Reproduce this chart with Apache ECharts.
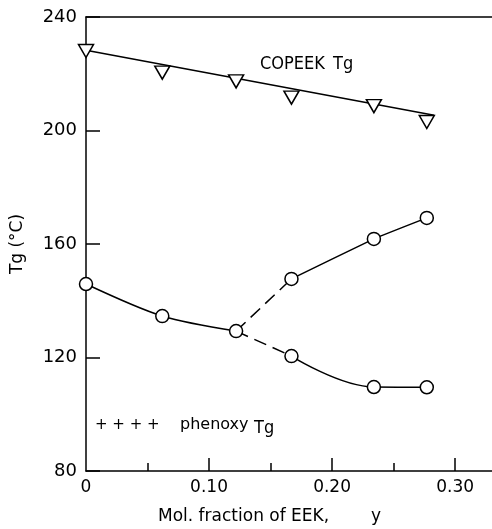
<!DOCTYPE html>
<html>
<head>
<meta charset="utf-8">
<script src="https://cdn.jsdelivr.net/npm/echarts@6/dist/echarts.min.js"></script>
<style>html,body{margin:0;padding:0;background:#fff}#c{width:492px;height:529px}</style>
</head>
<body>
<div id="c"></div>
<script>
// ---- data ----
var xValues = [0, 0.062, 0.122, 0.167, 0.234, 0.277];
var copeekTg = [228.0, 220.4, 217.3, 211.6, 208.6, 203.0];
var copeekFitX = [0, 0.283];
var copeekFitTg = [228.3, 205.4];
var blendTgLow = [145.9, 134.6, 129.3];           // x = 0, 0.062, 0.122
var blendTgUpperBranch = [147.7, 161.8, 169.2];   // x = 0.167, 0.234, 0.277
var blendTgLowerBranch = [120.5, 109.6, 109.5];   // x = 0.167, 0.234, 0.277
var xMajorTicks = [0.1, 0.2, 0.3];
var xMinorTicks = [0.05, 0.15, 0.25];
var xLabels = [0, 0.1, 0.2, 0.3];
var xLabelText = {0: '0', 0.1: '0.10', 0.2: '0.20', 0.3: '0.30'};

function pairs(xs, ys) { return ys.map(function (y, i) { return [xs[i], y]; }); }
var lowX = xValues.slice(0, 3);
var highX = xValues.slice(3, 6);

var FONT = 'DejaVu Sans';
var lineStyle = { color: '#000', width: 1.5 };
var hollow = { color: '#fff', borderColor: '#000', borderWidth: 1.5, opacity: 1 };

var chart = echarts.init(document.getElementById('c'));
chart.setOption({
  animation: false,
  backgroundColor: '#fff',
  grid: { left: 86, right: 0, top: 17, bottom: 58 },
  xAxis: [
    {
      type: 'value', position: 'bottom', min: 0, max: 0.33,
      axisLine: { lineStyle: lineStyle },
      axisTick: { inside: true, length: 13, lineStyle: lineStyle, customValues: xMajorTicks },
      axisLabel: {
        customValues: xLabels, margin: 8, color: '#000', fontFamily: FONT, fontSize: 17,
        formatter: function (v) { return xLabelText[Math.round(v * 10) / 10]; }
      },
      splitLine: { show: false }
    },
    {
      type: 'value', position: 'bottom', min: 0, max: 0.33,
      axisLine: { show: false },
      axisTick: { inside: true, length: 8, lineStyle: lineStyle, customValues: xMinorTicks },
      axisLabel: { show: false },
      splitLine: { show: false }
    },
    {
      type: 'value', position: 'top', min: 0, max: 0.33,
      axisLine: { lineStyle: lineStyle },
      axisTick: { show: false }, axisLabel: { show: false }, splitLine: { show: false }
    }
  ],
  yAxis: {
    type: 'value', min: 80, max: 240, interval: 40,
    name: 'Tg (°C)', nameLocation: 'middle', nameGap: 60, nameRotate: 90,
    nameTextStyle: { color: '#000', fontFamily: FONT, fontSize: 17 },
    axisLine: { lineStyle: lineStyle },
    axisTick: { inside: true, length: 14, lineStyle: lineStyle },
    axisLabel: { margin: 9, color: '#000', fontFamily: FONT, fontSize: 18 },
    splitLine: { show: false }
  },
  graphic: [
    { type: 'text', left: 158, top: 508,
      style: { text: 'Mol. fraction of EEK,', fill: '#000', font: '17px "DejaVu Sans"' } },
    { type: 'text', left: 371, top: 508,
      style: { text: 'y', fill: '#000', font: '17px "DejaVu Sans"' } },
    { type: 'text', left: 260, top: 55,
      style: { text: 'COPEEK', fill: '#000', font: '18px "DejaVu Sans Condensed"' } },
    { type: 'text', left: 333, top: 55,
      style: { text: 'Tg', fill: '#000', font: '18px "DejaVu Sans Condensed"' } },
    { type: 'text', left: 95, top: 418,
      style: { text: '+ + + +', fill: '#000', font: '15px "DejaVu Sans"' } },
    { type: 'text', left: 180, top: 417,
      style: { text: 'phenoxy', fill: '#000', font: '16px "DejaVu Sans"' } },
    { type: 'text', left: 254, top: 419,
      style: { text: 'Tg', fill: '#000', font: '18px "DejaVu Sans Condensed"' } }
  ],
  series: [
    { type: 'line', name: 'COPEEK fit', data: pairs(copeekFitX, copeekFitTg),
      showSymbol: false, symbol: 'none', lineStyle: lineStyle, z: 2 },
    { type: 'scatter', name: 'COPEEK Tg', data: pairs(xValues, copeekTg),
      symbol: 'triangle', symbolRotate: 180, symbolSize: [15, 13],
      itemStyle: hollow, z: 5 },
    { type: 'line', name: 'blend low', data: pairs(lowX, blendTgLow), smooth: 0.3,
      symbol: 'circle', symbolSize: 13, lineStyle: lineStyle, itemStyle: hollow, z: 4 },
    { type: 'line', name: 'dash up', data: [[lowX[2], blendTgLow[2]], [highX[0], blendTgUpperBranch[0]]],
      symbol: 'none', lineStyle: { color: '#000', width: 1.5, type: [13, 7] }, z: 2 },
    { type: 'line', name: 'dash down', data: [[lowX[2], blendTgLow[2]], [highX[0], blendTgLowerBranch[0]]],
      symbol: 'none', lineStyle: { color: '#000', width: 1.5, type: [13, 7] }, z: 2 },
    { type: 'line', name: 'upper', data: pairs(highX, blendTgUpperBranch), smooth: 0.1,
      symbol: 'circle', symbolSize: 13, lineStyle: lineStyle, itemStyle: hollow, z: 4 },
    { type: 'line', name: 'lower', data: pairs(highX, blendTgLowerBranch), smooth: 0.4,
      symbol: 'circle', symbolSize: 13, lineStyle: lineStyle, itemStyle: hollow, z: 4 }
  ]
});
</script>
</body>
</html>
